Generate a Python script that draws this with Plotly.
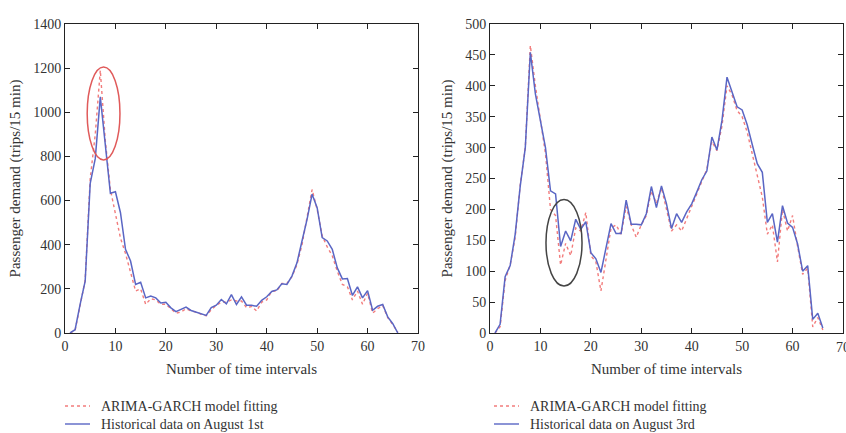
import plotly.graph_objects as go

x_vals = list(range(1, 67))

hist_aug1 = [0, 15, 130, 235, 678, 790, 1070, 850, 633, 640, 545, 379, 326, 220, 230, 159, 167, 159, 136, 139,
             114, 97, 106, 117, 102, 95, 88, 80, 115, 126, 152, 132, 174, 129, 164, 126, 126, 121, 148, 164,
             188, 195, 223, 220, 258, 318, 417, 515, 629, 568, 432, 417, 379, 295, 245, 247, 170, 209, 159, 192,
             103, 121, 129, 73, 42, 0]
fit_aug1 = [0, 12, 125, 240, 700, 900, 1190, 870, 650, 540, 430, 360, 280, 190, 200, 130, 155, 150, 130, 130,
            110, 90, 95, 110, 100, 95, 85, 78, 105, 125, 140, 140, 150, 145, 145, 115, 120, 100, 140, 150,
            190, 190, 225, 225, 255, 310, 400, 520, 650, 560, 440, 390, 350, 280, 220, 210, 150, 190, 130, 180,
            90, 110, 125, 70, 40, 5]

hist_aug3 = [0, 14, 91, 109, 160, 238, 300, 454, 387, 341, 300, 230, 225, 140, 165, 149, 184, 168, 180, 130,
             120, 98, 136, 177, 161, 161, 215, 176, 176, 175, 193, 237, 203, 238, 209, 169, 193, 179, 196, 209,
             228, 248, 262, 317, 296, 344, 414, 388, 366, 361, 337, 305, 274, 260, 179, 193, 147, 206, 178, 171,
             144, 100, 109, 22, 32, 8]
fit_aug3 = [0, 10, 85, 110, 155, 240, 300, 465, 400, 345, 290, 200, 190, 110, 145, 125, 170, 165, 195, 125,
            115, 68, 120, 170, 175, 160, 205, 175, 155, 175, 190, 230, 210, 235, 200, 165, 175, 165, 185, 205,
            225, 245, 265, 310, 295, 335, 400, 385, 360, 350, 325, 290, 255, 220, 160, 175, 115, 200, 165, 190,
            140, 95, 105, 10, 25, 5]

x_ticks = [0, 10, 20, 30, 40, 50, 60, 70]
y_ticks_left = [0, 200, 400, 600, 800, 1000, 1200, 1400]
y_ticks_right = [0, 50, 100, 150, 200, 250, 300, 350, 400, 450, 500]

fit_label = "ARIMA-GARCH model fitting"
hist_label_1 = "Historical data on August 1st"
hist_label_3 = "Historical data on August 3rd"

BLUE = "#5a66c4"
RED = "#f27c7c"
FONT = "Liberation Serif"
W, H = 846, 433

fig = go.Figure()
fig.add_trace(go.Scatter(x=x_vals, y=fit_aug1, mode="lines", name=fit_label, showlegend=False,
                         line=dict(color=RED, width=1.4, dash="dot"), xaxis="x", yaxis="y"))
fig.add_trace(go.Scatter(x=x_vals, y=hist_aug1, mode="lines", name=hist_label_1, showlegend=False,
                         line=dict(color=BLUE, width=1.5), xaxis="x", yaxis="y"))
fig.add_trace(go.Scatter(x=x_vals, y=fit_aug3, mode="lines", name=fit_label, showlegend=False,
                         line=dict(color=RED, width=1.4, dash="dot"), xaxis="x2", yaxis="y2"))
fig.add_trace(go.Scatter(x=x_vals, y=hist_aug3, mode="lines", name=hist_label_3, showlegend=False,
                         line=dict(color=BLUE, width=1.5), xaxis="x2", yaxis="y2"))

ydom = [(H - 333) / H, (H - 24) / H]

axis_common = dict(showline=True, linecolor="#222", linewidth=1, mirror="ticks", ticks="inside",
                   ticklen=5, tickcolor="#222", showgrid=False, zeroline=False, automargin=False,
                   tickfont=dict(family=FONT, size=14, color="#333"))

# Manual legends placed below each panel
shapes = [
    dict(type="circle", xref="x", yref="y", x0=4.4, x1=10.9, y0=784, y1=1205,
         line=dict(color="#e05a5a", width=1.5)),
    dict(type="circle", xref="x2", yref="y2", x0=11.1, x1=18.25, y0=76, y1=216,
         line=dict(color="#444", width=1.5)),
]
annotations = [
    # last tick label of the right panel, partly cut by the page edge as in the reference
    dict(xref="x2", yref="paper", x=x_ticks[-1], y=(H - 338) / H, yanchor="top", xanchor="center",
         showarrow=False, text=str(x_ticks[-1]), font=dict(family=FONT, size=14, color="#333")),
]
legend_specs = [
    (65, [(fit_label, RED, "dot"), (hist_label_1, BLUE, "solid")]),
    (494, [(fit_label, RED, "dot"), (hist_label_3, BLUE, "solid")]),
]
row_y = [406, 424]
for x0, items in legend_specs:
    for (label, color, dash), ypx in zip(items, row_y):
        yp = (H - ypx) / H
        shapes.append(dict(type="line", xref="paper", yref="paper",
                           x0=x0 / W, x1=(x0 + 25) / W, y0=yp, y1=yp,
                           line=dict(color=color, width=1.4, dash=dash)))
        annotations.append(dict(xref="paper", yref="paper", x=(x0 + 34) / W, y=yp,
                                xanchor="left", yanchor="middle", showarrow=False, text=label,
                                font=dict(family=FONT, size=14, color="#333")))

fig.update_layout(
    width=W, height=H, margin=dict(l=0, r=0, t=0, b=0, autoexpand=False),
    paper_bgcolor="white", plot_bgcolor="white",
    font=dict(family=FONT, size=14, color="#333"),
    showlegend=False,
    xaxis=dict(domain=[65 / W, 418 / W], range=[0, 70], tickvals=x_ticks, anchor="y",
               title=dict(text="Number of time intervals", standoff=10, font=dict(family=FONT, size=15)),
               **axis_common),
    yaxis=dict(domain=ydom, range=[0, 1400], tickvals=y_ticks_left, anchor="x",
               title=dict(text="Passenger demand (trips/15 min)", standoff=8, font=dict(family=FONT, size=15)),
               **axis_common),
    xaxis2=dict(domain=[490 / W, 843 / W], range=[0, 70], tickvals=x_ticks, anchor="y2",
                title=dict(text="Number of time intervals", standoff=10, font=dict(family=FONT, size=15)),
                **axis_common),
    yaxis2=dict(domain=ydom, range=[0, 500], tickvals=y_ticks_right, anchor="x2",
                title=dict(text="Passenger demand (trips/15 min)", standoff=8, font=dict(family=FONT, size=15)),
                **axis_common),
    shapes=shapes,
    annotations=annotations,
)

fig.write_html("out.html")
